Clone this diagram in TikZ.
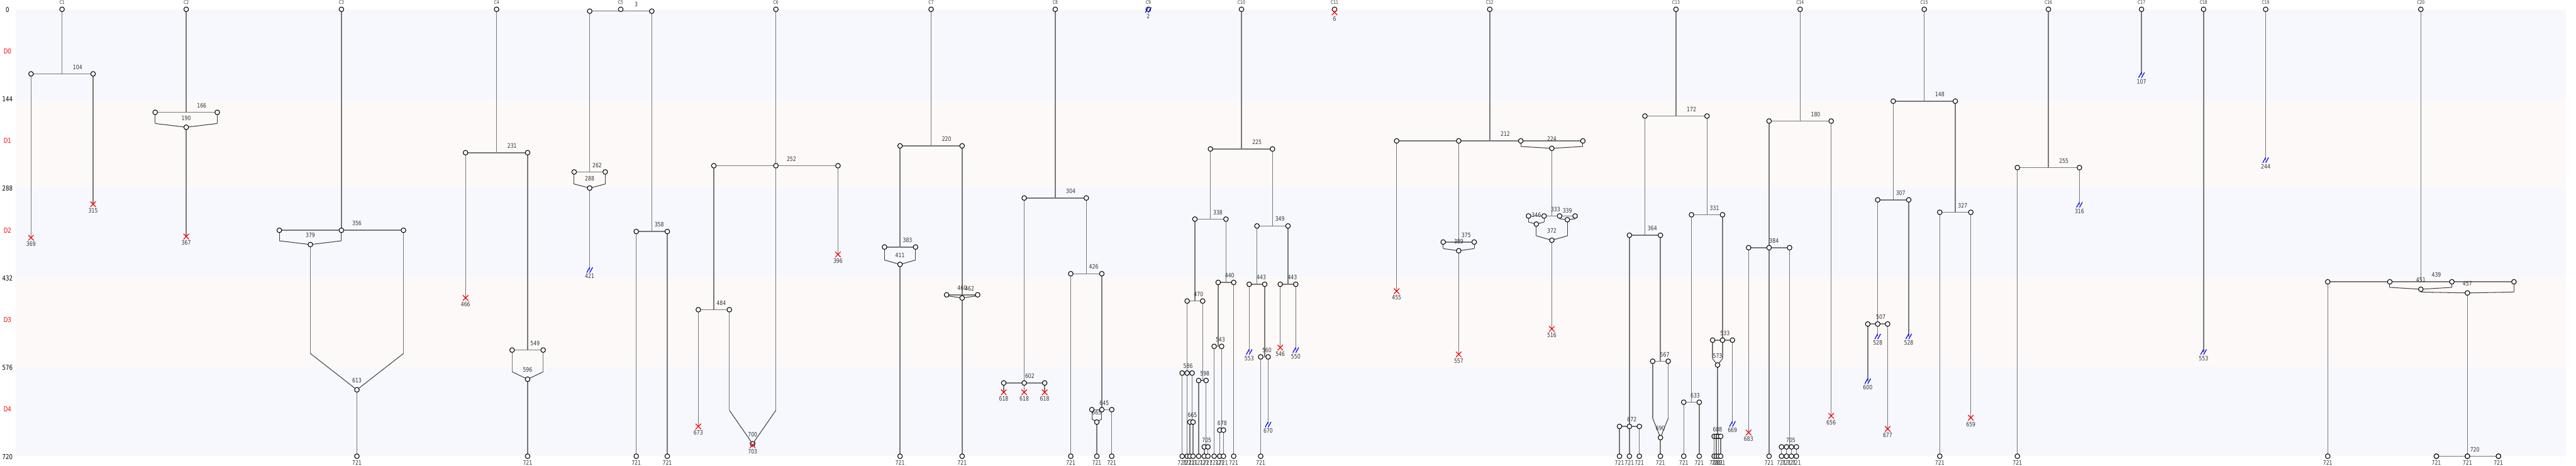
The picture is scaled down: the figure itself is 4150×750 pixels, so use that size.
\documentclass[tikz,border=0pt]{standalone}
\usepackage{fontspec}
\setmainfont{DejaVu Sans}[FakeStretch=0.8]
\usetikzlibrary{positioning,shapes.misc}
\pgfdeclarelayer{bands}
\pgfdeclarelayer{wires}
\pgfsetlayers{bands,wires,main}

\definecolor{bandblue}{RGB}{246,248,254}
\definecolor{bandpink}{RGB}{254,249,249}
\definecolor{linegray}{RGB}{119,119,119}

\tikzset{
  cell/.style={circle, draw=black, fill=white, line width=0.3pt, inner sep=0pt, minimum size=0.76mm},
  lin/.style={draw=linegray, line width=0.42pt},
  fusel/.style={draw=black!75, line width=0.3pt},
  lbl/.style={font=\fontsize{2.8pt}{3pt}\selectfont, text=black!80, inner sep=0pt},
  coltxt/.style={font=\fontsize{2.2pt}{2.5pt}\selectfont, text=black!80, inner sep=0pt},
  axl/.style={font=\fontsize{3.1pt}{3.5pt}\selectfont, inner sep=0pt},
  dl/.style={axl, text=red},
  xmark/.style={cross out, draw=red, line width=0.35pt, inner sep=0pt, minimum size=0.75mm},
  cutpt/.style={inner sep=0pt, minimum width=0.8mm, minimum height=0.7mm},
  cutln/.style={draw=blue, line width=0.35pt},
}

% root of a colony: name, x, title
\newcommand\colroot[3]{%
  \node[cell] (#1) at (#2,0) {};
  \node[coltxt, above=0.35mm of #1] (#1t) {#3};}
% split: parent, time, first child, last child, children name/x, label x
\newcommand\fork[6]{%
  \foreach \n/\xx in {#5}{\node[cell] (\n) at (\xx,#2) {};}
  \begin{pgfonlayer}{wires}
    \draw[lin] (#1.center) -- (#1.center |- #3.center);
    \draw[lin] (#3.center) -- (#4.center);
  \end{pgfonlayer}
  \node[lbl] (#1f) at (#6,#2-11) {#2};}
% merge: [stub style] name, x, time, incoming, slant start, label
\newcommand\fuse[7][lin]{%
  \node[cell] (#2) at (#3,#4) {};
  \begin{pgfonlayer}{wires}
    \foreach \m in {#5}{%
      \draw[#1] (\m.center) -- (\m.center |- 0,#6);
      \draw[fusel] (\m.center |- 0,#6) -- (#2.center);}
  \end{pgfonlayer}
  \node[lbl] (#2g) at (#3,#4-15) {#7};}
% end states
\newcommand\alive[2]{%
  \node[cell, label={[lbl]below:721}] (#1) at (#2.center |- 0,720) {};
  \begin{pgfonlayer}{wires}\draw[lin] (#2.center) -- (#1.center);\end{pgfonlayer}}
\newcommand\dead[3]{%
  \node[xmark, label={[lbl]below:#3}] (#1) at (#2.center |- 0,#3-1) {};
  \begin{pgfonlayer}{wires}\draw[lin] (#2.center) -- (#1.center);\end{pgfonlayer}}
\newcommand\lost[3]{%
  \node[cutpt, label={[lbl]below:#3}] (#1) at (#2.center |- 0,#3-1) {};
  \draw[cutln] (#1.south west) -- (#1.north) (#1.south) -- (#1.north east);
  \begin{pgfonlayer}{wires}\draw[lin] (#2.center) -- (#1.center);\end{pgfonlayer}}

\begin{document}
\begin{tikzpicture}[x=0.1mm, y=-0.1mm, label distance=0.16mm]
\useasboundingbox (0,-15) rectangle (4150,735);
% background bands
\begin{pgfonlayer}{bands}
\foreach \k in {0,2,4} \fill[bandblue] (25,\k*144) rectangle (4134,\k*144+144);
\foreach \k in {1,3} \fill[bandpink] (25,\k*144) rectangle (4134,\k*144+144);
\end{pgfonlayer}
% time axis
\foreach \v in {0,144,288,432,576,720} \node[axl] (ax\v) at (12,\v+1) {\v};
\foreach \d in {0,...,4} \node[dl] (dom\d) at (12,68+144*\d) {D\d};

% C1
\colroot{r1}{100}{C1}
\fork{r1}{104}{p1a}{p1b}{p1a/50,p1b/150}{125}
\dead{e1a}{p1a}{369}
\dead{e1b}{p1b}{315}
% C2
\colroot{r2}{300}{C2}
\fork{r2}{166}{p2a}{p2b}{p2a/250,p2b/350}{325}
\fuse[fusel]{m2}{300}{190}{p2a,p2b}{184}{190}
\dead{e2}{m2}{367}
% C3
\colroot{r3}{550}{C3}
\fork{r3}{356}{p3a}{p3c}{p3a/450,p3b/550,p3c/650}{575}
\fuse[fusel]{m3a}{500}{379}{p3a,p3b}{373}{379}
\fuse{m3b}{575}{613}{m3a,p3c}{554.5}{613}
\alive{z3}{m3b}
% C4
\colroot{r4}{800}{C4}
\fork{r4}{231}{p4a}{p4b}{p4a/750,p4b/850}{825}
\dead{e4}{p4a}{466}
\fork{p4b}{549}{p4c}{p4d}{p4c/825,p4d/875}{862}
\fuse{m4}{850}{596}{p4c,p4d}{584}{596}
\alive{z4}{m4}
% C5
\colroot{r5}{1000}{C5}
\fork{r5}{3}{p5a}{p5b}{p5a/950,p5b/1050}{1025}
\fork{p5a}{262}{p5c}{p5d}{p5c/925,p5d/975}{962}
\fuse[fusel]{m5}{950}{288}{p5c,p5d}{281.5}{288}
\lost{e5}{m5}{421}
\fork{p5b}{358}{p5e}{p5f}{p5e/1025,p5f/1075}{1062}
\alive{z5a}{p5e}
\alive{z5b}{p5f}
% C6
\colroot{r6}{1250}{C6}
\fork{r6}{252}{p6a}{p6c}{p6a/1150,p6b/1250,p6c/1350}{1275}
\dead{e6a}{p6c}{396}
\fork{p6a}{484}{p6d}{p6e}{p6d/1125,p6e/1175}{1162}
\dead{e6b}{p6d}{673}
\fuse{m6}{1212.5}{700}{p6e,p6b}{646}{700}
\dead{e6c}{m6}{703}
% C7
\colroot{r7}{1500}{C7}
\fork{r7}{220}{p7a}{p7b}{p7a/1450,p7b/1550}{1525}
\fork{p7a}{383}{p7c}{p7d}{p7c/1425,p7d/1475}{1462}
\fuse[fusel]{m7a}{1450}{411}{p7c,p7d}{404}{411}
\alive{z7a}{m7a}
\fork{p7b}{460}{p7e}{p7f}{p7e/1525,p7f/1575}{1550}
\fuse[fusel]{m7b}{1550}{465}{p7e,p7f}{461.5}{}
\node[lbl] (m7bx) at (1562,450) {462};
\alive{z7b}{m7b}
% C8
\colroot{r8}{1700}{C8}
\fork{r8}{304}{p8a}{p8b}{p8a/1650,p8b/1750}{1725}
\fork{p8a}{602}{p8c}{p8e}{p8c/1617,p8d/1650,p8e/1683}{1659}
\dead{e8a}{p8c}{618}
\dead{e8b}{p8d}{618}
\dead{e8c}{p8e}{618}
\fork{p8b}{426}{p8f}{p8g}{p8f/1725,p8g/1775}{1762}
\alive{z8a}{p8f}
\fork{p8g}{645}{p8h}{p8j}{p8h/1759,p8i/1775,p8j/1791}{1779}
\fuse[fusel]{m8}{1767}{665}{p8h,p8i}{660}{665}
\alive{z8b}{m8}
\alive{z8c}{p8j}
% C9
\colroot{r9}{1850}{C9}
\lost{e9}{r9}{2}
% C10
\colroot{r10}{2000}{C10}
\fork{r10}{225}{p10a}{p10b}{p10a/1950,p10b/2050}{2025}
\fork{p10a}{338}{p10c}{p10d}{p10c/1925,p10d/1975}{1962}
\fork{p10c}{470}{p10e}{p10f}{p10e/1912.5,p10f/1937.5}{1931}
\fork{p10e}{586}{p10g}{p10i}{p10g/1904.5,p10h/1912.5,p10i/1920.5}{1914}
\alive{z10a}{p10g}
\alive{z10b}{p10h}
\fork{p10i}{665}{p10j}{p10k}{p10j/1917,p10k/1922}{1921}
\alive{z10c}{p10j}
\alive{z10d}{p10k}
\fork{p10f}{598}{p10l}{p10m}{p10l/1931,p10m/1943}{1941}
\alive{z10e}{p10l}
\fork{p10m}{705}{p10n}{p10o}{p10n/1940,p10o/1946}{1944}
\alive{z10f}{p10n}
\alive{z10g}{p10o}
\fork{p10d}{440}{p10p}{p10q}{p10p/1962.5,p10q/1987.5}{1981}
\fork{p10p}{543}{p10r}{p10s}{p10r/1956,p10s/1968}{1966}
\alive{z10h}{p10r}
\fork{p10s}{678}{p10t}{p10u}{p10t/1965,p10u/1971}{1969}
\alive{z10i}{p10t}
\alive{z10j}{p10u}
\alive{z10k}{p10q}
\fork{p10b}{349}{p10v}{p10w}{p10v/2025,p10w/2075}{2062}
\fork{p10v}{443}{p10x}{p10y}{p10x/2012.5,p10y/2037.5}{2032}
\lost{e10a}{p10x}{553}
\fork{p10y}{560}{p10z}{p10aa}{p10z/2031,p10aa/2043}{2041}
\alive{z10l}{p10z}
\lost{e10b}{p10aa}{670}
\fork{p10w}{443}{p10ab}{p10ac}{p10ab/2062.5,p10ac/2087.5}{2082}
\dead{e10c}{p10ab}{546}
\lost{e10d}{p10ac}{550}
% C11
\colroot{r11}{2150}{C11}
\dead{e11}{r11}{6}
% C12
\colroot{r12}{2400}{C12}
\fork{r12}{212}{p12a}{p12d}{p12a/2250,p12b/2350,p12c/2450,p12d/2550}{2425}
\dead{e12a}{p12a}{455}
\fork{p12b}{375}{p12e}{p12f}{p12e/2325,p12f/2375}{2362}
\fuse[fusel]{m12a}{2350}{389}{p12e,p12f}{385.5}{389}
\dead{e12b}{m12a}{557}
\fuse[fusel]{m12b}{2500}{224}{p12c,p12d}{221}{224}
\fork{m12b}{333}{p12g}{p12j}{p12g/2462.5,p12h/2487.5,p12i/2512.5,p12j/2537.5}{2506}
\fuse[fusel]{m12c}{2475}{346}{p12g,p12h}{342.75}{346}
\fuse[fusel]{m12d}{2525}{339}{p12i,p12j}{337.5}{339}
\fuse[fusel]{m12e}{2500}{372}{m12c,m12d}{365}{372}
\dead{e12c}{m12e}{516}
% C13
\colroot{r13}{2700}{C13}
\fork{r13}{172}{p13a}{p13b}{p13a/2650,p13b/2750}{2725}
\fork{p13a}{364}{p13c}{p13d}{p13c/2625,p13d/2675}{2662}
\fork{p13c}{672}{p13e}{p13g}{p13e/2609,p13f/2625,p13g/2641}{2629}
\alive{z13a}{p13e}
\alive{z13b}{p13f}
\alive{z13c}{p13g}
\fork{p13d}{567}{p13h}{p13i}{p13h/2662.5,p13i/2687.5}{2682}
\fuse{m13a}{2675}{690}{p13h,p13i}{659}{690}
\alive{z13d}{m13a}
\fork{p13b}{331}{p13j}{p13k}{p13j/2725,p13k/2775}{2762}
\fork{p13j}{633}{p13l}{p13m}{p13l/2712.5,p13m/2737.5}{2731}
\alive{z13e}{p13l}
\alive{z13f}{p13m}
\fork{p13k}{533}{p13n}{p13p}{p13n/2759,p13o/2775,p13p/2791}{2779}
\fuse{m13b}{2767}{573}{p13n,p13o}{563}{573}
\fork{m13b}{688}{p13q}{p13t}{p13q/2761.5,p13r/2765,p13s/2768.5,p13t/2772}{2767}
\alive{z13g}{p13q}
\alive{z13h}{p13r}
\alive{z13i}{p13s}
\alive{z13j}{p13t}
\lost{e13}{p13p}{669}
% C14
\colroot{r14}{2900}{C14}
\fork{r14}{180}{p14a}{p14b}{p14a/2850,p14b/2950}{2925}
\fork{p14a}{384}{p14c}{p14e}{p14c/2817,p14d/2850,p14e/2883}{2858}
\dead{e14a}{p14c}{683}
\alive{z14a}{p14d}
\fork{p14e}{705}{p14f}{p14i}{p14f/2870,p14g/2878,p14h/2886,p14i/2894}{2885}
\alive{z14b}{p14f}
\alive{z14c}{p14g}
\alive{z14d}{p14h}
\alive{z14e}{p14i}
\dead{e14b}{p14b}{656}
% C15
\colroot{r15}{3100}{C15}
\fork{r15}{148}{p15a}{p15b}{p15a/3050,p15b/3150}{3125}
\fork{p15a}{307}{p15c}{p15d}{p15c/3025,p15d/3075}{3062}
\fork{p15c}{507}{p15e}{p15g}{p15e/3009,p15f/3025,p15g/3041}{3030}
\lost{e15a}{p15e}{600}
\lost{e15b}{p15f}{528}
\dead{e15c}{p15g}{677}
\lost{e15d}{p15d}{528}
\fork{p15b}{327}{p15h}{p15i}{p15h/3125,p15i/3175}{3162}
\alive{z15}{p15h}
\dead{e15e}{p15i}{659}
% C16
\colroot{r16}{3300}{C16}
\fork{r16}{255}{p16a}{p16b}{p16a/3250,p16b/3350}{3325}
\alive{z16}{p16a}
\lost{e16}{p16b}{316}
% C17 - C19
\colroot{r17}{3450}{C17}
\lost{e17}{r17}{107}
\colroot{r18}{3550}{C18}
\lost{e18}{r18}{553}
\colroot{r19}{3650}{C19}
\lost{e19}{r19}{244}
% C20
\colroot{r20}{3900}{C20}
\fork{r20}{439}{p20a}{p20d}{p20a/3750,p20b/3850,p20c/3950,p20d/4050}{3925}
\alive{z20a}{p20a}
\fuse[fusel]{m20a}{3900}{451}{p20b,p20c}{448}{451}
\fuse[fusel]{m20b}{3975}{457}{m20a,p20d}{455.5}{457}
\fork{m20b}{720}{p20e}{p20g}{p20e/3925,p20f/3975,p20g/4025}{3987}
\alive{z20b}{p20e}
\alive{z20c}{p20f}
\alive{z20d}{p20g}
\end{tikzpicture}
\end{document}
